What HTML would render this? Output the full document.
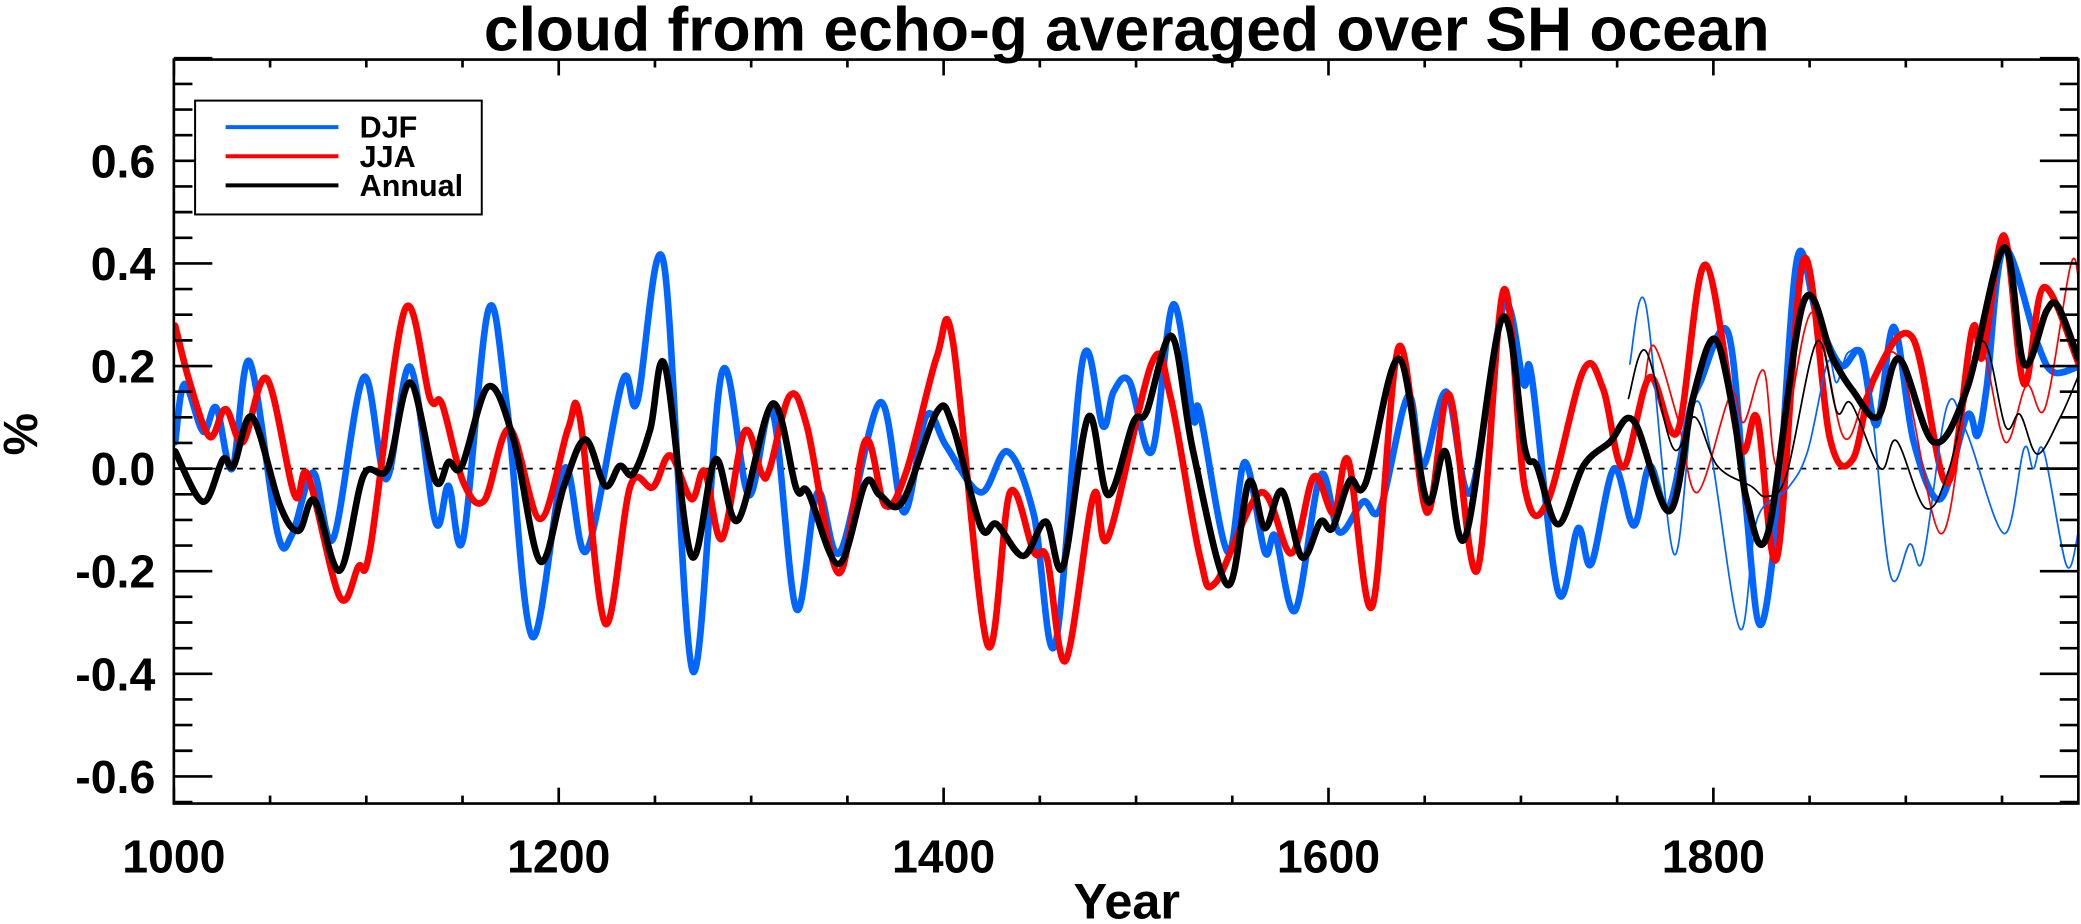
<!DOCTYPE html>
<html><head><meta charset="utf-8"><style>
html,body{margin:0;padding:0;background:#fff;}
svg{display:block;}
text{font-family:"Liberation Sans",sans-serif;font-weight:bold;fill:#000;}
</style></head><body>
<svg id="s" width="2081" height="924" viewBox="0 0 1568 698" preserveAspectRatio="none" xmlns="http://www.w3.org/2000/svg">
<defs><clipPath id="c"><rect x="131" y="45" width="1435" height="562"/></clipPath></defs>
<rect width="1568" height="698" fill="#fff"/>
<text x="849" y="38" font-size="47" text-anchor="middle">cloud from echo-g averaged over SH ocean</text>
<line x1="131" y1="354" x2="1566" y2="354" stroke="#000" stroke-width="1.3" stroke-dasharray="4.5,5"/>
<g id="curves" clip-path="url(#c)" fill="none" stroke-linejoin="round" stroke-linecap="round"></g>
<g id="ax" stroke="#000" stroke-width="2" fill="none"><rect x="131" y="45" width="1435" height="562"/></g>
<g id="lab"></g>
<text x="849" y="694" font-size="38" text-anchor="middle">Year</text>
<text x="0" y="0" font-size="36" text-anchor="middle" transform="translate(28,328) rotate(-90)">%</text>
<rect x="147" y="76" width="216" height="86" fill="#fff" stroke="#000" stroke-width="1.5"/>
<line x1="170" y1="96" x2="255" y2="96" stroke="#0066ff" stroke-width="3"/>
<line x1="170" y1="118" x2="255" y2="118" stroke="#ff0000" stroke-width="3"/>
<line x1="170" y1="140" x2="255" y2="140" stroke="#000" stroke-width="3"/>
<text x="271" y="104" font-size="23">DJF</text>
<text x="271" y="126" font-size="23">JJA</text>
<text x="271" y="148" font-size="23">Annual</text>
</svg>
<script>
var NS="http://www.w3.org/2000/svg";
function el(p,t,a){var e=document.createElementNS(NS,t);for(var k in a)e.setAttribute(k,a[k]);p.appendChild(e);return e;}
function path(pts){var d="M"+pts[0][0]+","+pts[0][1];for(var i=0;i<pts.length-1;i++){var p0=pts[i-1]||pts[i],p1=pts[i],p2=pts[i+1],p3=pts[i+2]||p2;
var c1x=p1[0]+(p2[0]-p0[0])/6,c1y=p1[1]+(p2[1]-p0[1])/6,c2x=p2[0]-(p3[0]-p1[0])/6,c2y=p2[1]-(p3[1]-p1[1])/6;
d+=" C"+c1x.toFixed(1)+","+c1y.toFixed(1)+" "+c2x.toFixed(1)+","+c2y.toFixed(1)+" "+p2[0]+","+p2[1];}return d;}
function P(a){var r=[];for(var i=0;i<a.length;i+=2)r.push([a[i],a[i+1]]);return r;}
var blue=P([132,334,139,290,153,326,163,308,175,354,188,273,209,402,220,404,236,357,251,407,274,285,291,362,309,277,328,394,338,367,349,407,368,234,382,307,401,481,425,354,442,416,469,288,480,304,500,198,522,507,544,281,564,374,582,311,600,460,616,372,633,417,663,304,681,387,698,314,713,337,739,372,759,341,779,389,795,487,816,271,831,322,839,296,851,288,868,341,884,230,899,316,904,311,925,417,938,349,953,417,961,405,976,461,995,359,1009,402,1027,379,1040,384,1061,299,1072,352,1090,296,1108,372,1133,231,1148,290,1154,284,1174,447,1189,399,1199,426,1216,354,1231,397,1243,352,1257,384,1273,311,1281,289,1302,251,1315,377,1326,472,1339,390,1354,196,1369,239,1387,276,1402,266,1414,321,1427,247,1442,334,1462,377,1482,314,1490,329,1497,292,1510,188,1535,259,1547,281,1566,277]);
var red=P([132,246,143,289,158,330,170,309,183,334,201,286,222,374,232,359,256,451,270,428,279,414,305,234,324,301,333,305,349,364,365,378,384,324,407,392,428,324,437,316,456,471,475,367,492,368,505,344,521,377,531,356,544,407,561,326,574,358,580,354,595,299,608,322,632,433,652,333,667,382,683,356,706,269,718,258,744,487,761,372,779,417,789,422,803,499,824,374,835,406,868,274,882,300,904,420,916,440,950,372,973,418,990,360,1005,388,1016,348,1034,458,1054,262,1075,387,1092,298,1113,431,1133,219,1149,369,1166,379,1193,280,1208,294,1223,353,1243,285,1264,326,1285,200,1311,337,1324,316,1339,421,1359,196,1379,332,1396,347,1412,286,1441,255,1467,365,1486,249,1494,269,1510,178,1525,290,1540,217,1566,274]);
var blk=P([132,341,153,379,168,347,176,352,190,315,211,382,225,401,237,378,256,431,274,359,292,354,309,289,328,363,338,349,348,352,368,292,387,332,407,424,425,367,441,332,456,367,467,352,477,358,490,324,501,276,521,420,539,347,556,393,582,305,600,369,609,372,632,426,652,365,663,374,680,379,706,311,718,322,739,398,751,396,771,420,788,394,801,428,820,315,835,374,854,319,864,311,883,254,899,341,925,442,941,364,953,399,966,371,981,421,995,394,1004,399,1017,363,1029,365,1054,271,1075,378,1089,341,1104,406,1132,240,1149,339,1158,352,1174,396,1193,352,1213,334,1231,318,1258,386,1276,299,1292,256,1306,311,1316,377,1332,403,1359,228,1381,271,1396,295,1415,315,1431,271,1457,334,1482,294,1510,187,1525,275,1542,235,1551,232,1566,271]);
var tb=P([1228,275,1240,230,1261,418,1276,307,1289,341,1311,475,1324,392,1347,369,1362,341,1377,274,1384,289,1393,266,1407,281,1424,433,1439,411,1449,422,1467,307,1482,327,1510,403,1525,339,1532,354,1540,341,1557,427,1566,402]);
var tr=P([1238,299,1246,261,1264,316,1279,372,1304,298,1314,319,1329,280,1340,352,1365,236,1389,330,1407,296,1431,271,1462,403,1482,299,1494,265,1511,334,1527,291,1541,308,1560,201,1566,209]);
var tk=P([1227,301,1240,265,1261,339,1277,315,1294,352,1319,367,1331,375,1346,359,1369,258,1384,311,1395,305,1417,354,1429,333,1451,384,1469,353,1493,258,1511,322,1522,313,1535,343,1552,316,1566,284]);
var g=document.getElementById("curves");
el(g,"path",{d:path(blue),stroke:"#0066ff","stroke-width":5});
el(g,"path",{d:path(red),stroke:"#ff0000","stroke-width":5});
el(g,"path",{d:path(tb),stroke:"#0066ff","stroke-width":1.3});
el(g,"path",{d:path(tr),stroke:"#ff0000","stroke-width":1.3});
el(g,"path",{d:path(tk),stroke:"#000","stroke-width":1.3});
el(g,"path",{d:path(blk),stroke:"#000","stroke-width":5});
var ax=document.getElementById("ax"),lab=document.getElementById("lab");
for(var yr=1000;yr<=1990;yr+=50){var x=131+(yr-1000)*1.45,L=(yr%200==0)?12:6;
el(ax,"line",{x1:x,y1:607,x2:x,y2:607-L});el(ax,"line",{x1:x,y1:45,x2:x,y2:45+L});
if(yr%200==0){var t=el(lab,"text",{x:x,y:659,"font-size":35,"text-anchor":"middle"});t.textContent=yr;}}
for(var i=-13;i<=16;i++){var v=i*0.05,y=354-v*387.5,maj=(i%4==0),L=maj?29:14;
el(ax,"line",{x1:131,y1:y,x2:131+L,y2:y});el(ax,"line",{x1:1566,y1:y,x2:1566-L,y2:y});
if(maj&&Math.abs(v)<0.7){var t=el(lab,"text",{x:117,y:y+12.5,"font-size":35,"text-anchor":"end"});t.textContent=v.toFixed(1);}}
</script>
</body></html>
